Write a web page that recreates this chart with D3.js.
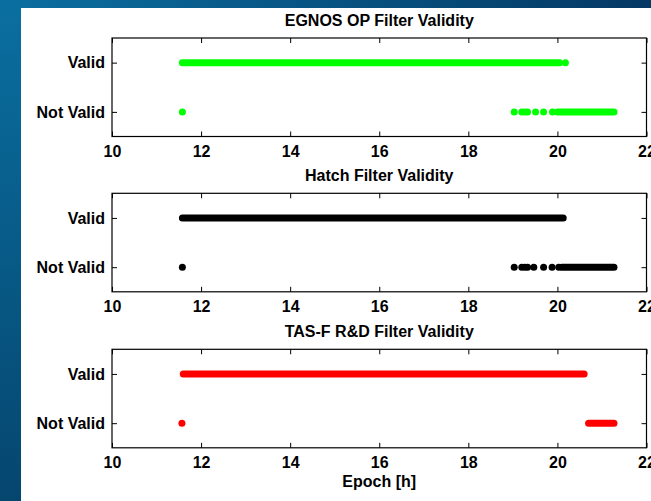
<!DOCTYPE html>
<html>
<head>
<meta charset="utf-8">
<script src="https://cdn.jsdelivr.net/npm/d3@7"></script>
<style>
  html, body { margin: 0; padding: 0; background: #fff; }
  svg { display: block; }
  text { font-family: "Liberation Sans", Arial, sans-serif; font-weight: bold; fill: #000; }
</style>
</head>
<body>
<svg id="chart" width="651" height="501"></svg>
<script>
// ---- data ----
const xTicks = [10, 12, 14, 16, 18, 20, 22];
const yTickLabels = ["Not Valid", "Valid"];   // 0 = Not Valid, 1 = Valid
const panelTitles = ["EGNOS OP Filter Validity", "Hatch Filter Validity", "TAS-F R&D Filter Validity"];
const panelColors = ["#00ff00", "#000000", "#ff0000"];
const xLabel = "Epoch [h]";

// continuous runs of epochs [start, end] (h) and isolated epochs
const egnosValidRuns = [[11.58, 20.05]];
const egnosValidPoints = [20.18];
const egnosNotValidRuns = [[20.0, 21.27]];
const egnosNotValidPoints = [11.58, 19.03, 19.20, 19.27, 19.33, 19.51, 19.69, 19.89];

const hatchValidRuns = [[11.58, 20.13]];
const hatchValidPoints = [];
const hatchNotValidRuns = [[20.1, 21.27]];
const hatchNotValidPoints = [11.58, 19.03, 19.20, 19.27, 19.33, 19.47, 19.69, 19.88, 20.03];

const tasValidRuns = [[11.6, 20.6]];
const tasValidPoints = [];
const tasNotValidRuns = [[20.7, 21.27]];
const tasNotValidPoints = [11.57];

const panels = [
  { valid: [egnosValidRuns, egnosValidPoints], notValid: [egnosNotValidRuns, egnosNotValidPoints] },
  { valid: [hatchValidRuns, hatchValidPoints], notValid: [hatchNotValidRuns, hatchNotValidPoints] },
  { valid: [tasValidRuns, tasValidPoints], notValid: [tasNotValidRuns, tasNotValidPoints] }
];

// ---- layout ----
const svg = d3.select("#chart");
const W = 651, H = 501;
const defs = svg.append("defs");
const gTop = defs.append("linearGradient").attr("id", "gTop").attr("x1", 0).attr("x2", 1).attr("y1", 0).attr("y2", 0);
gTop.append("stop").attr("offset", "0%").attr("stop-color", "#0a6fa0");
gTop.append("stop").attr("offset", "100%").attr("stop-color", "#053864");
const gLeft = defs.append("linearGradient").attr("id", "gLeft").attr("x1", 0).attr("x2", 0).attr("y1", 0).attr("y2", 1);
gLeft.append("stop").attr("offset", "0%").attr("stop-color", "#0a6fa0");
gLeft.append("stop").attr("offset", "100%").attr("stop-color", "#05466f");

svg.append("rect").attr("x", 0).attr("y", 0).attr("width", W).attr("height", 8).attr("fill", "url(#gTop)");
svg.append("rect").attr("x", 0).attr("y", 0).attr("width", 21).attr("height", H).attr("fill", "url(#gLeft)");
svg.append("rect").attr("x", 21).attr("y", 8).attr("width", W - 21).attr("height", H - 8).attr("fill", "#fff");

const left = 112, right = 646.5;
const boxTops = [38, 193.3, 349.3];
const boxH = 98.5;
const markerR = 3.5;
const fs = 16;

const x = d3.scaleLinear().domain([10, 22]).range([left, right]);

panels.forEach((p, i) => {
  const top = boxTops[i], bottom = top + boxH;
  const y = d3.scaleLinear().domain([-0.5, 1.5]).range([bottom, top]);
  const g = svg.append("g");
  const color = panelColors[i];

  // data
  [[p.notValid, 0], [p.valid, 1]].forEach(([series, lvl]) => {
    const [runs, pts] = series;
    g.selectAll(null).data(runs).enter().append("line")
      .attr("x1", d => x(d[0])).attr("x2", d => x(d[1]))
      .attr("y1", y(lvl)).attr("y2", y(lvl))
      .attr("stroke", color).attr("stroke-width", markerR * 2)
      .attr("stroke-linecap", "round");
    g.selectAll(null).data(pts).enter().append("circle")
      .attr("cx", d => x(d)).attr("cy", y(lvl)).attr("r", markerR)
      .attr("fill", color);
  });

  // axes
  const axB = d3.axisBottom(x).tickValues(xTicks).tickSizeInner(-5).tickSizeOuter(0).tickPadding(9);
  const axT = d3.axisTop(x).tickValues(xTicks).tickSizeInner(-5).tickSizeOuter(0).tickFormat("");
  const axL = d3.axisLeft(y).tickValues([0, 1]).tickSizeInner(6).tickSizeOuter(0).tickPadding(2)
    .tickFormat(d => yTickLabels[d]);
  const axR = d3.axisRight(y).tickValues([0, 1]).tickSizeInner(-5).tickSizeOuter(0).tickFormat("");

  const gb = g.append("g").attr("transform", `translate(0,${bottom})`).call(axB);
  const gt = g.append("g").attr("transform", `translate(0,${top})`).call(axT);
  const gl = g.append("g").attr("transform", `translate(${left},0)`).call(axL);
  const gr = g.append("g").attr("transform", `translate(${right},0)`).call(axR);
  [gb, gt, gl, gr].forEach(a => {
    a.select(".domain").remove();
    a.selectAll("line").attr("stroke", "#000");
    a.selectAll("text").attr("font-family", "Liberation Sans, Arial, sans-serif")
      .attr("font-weight", "bold").attr("font-size", fs).attr("fill", "#000");
  });
  gl.selectAll(".tick line").attr("x2", 5);
  gl.selectAll(".tick text").attr("x", -7);

  g.append("rect").attr("x", left).attr("y", top).attr("width", right - left).attr("height", boxH)
    .attr("fill", "none").attr("stroke", "#000").attr("stroke-width", 1.2);

  g.append("text").attr("x", (left + right) / 2).attr("y", top - 12)
    .attr("text-anchor", "middle").attr("font-size", fs).text(panelTitles[i]);
});

svg.append("text").attr("x", (left + right) / 2).attr("y", 487)
  .attr("text-anchor", "middle").attr("font-size", fs).text(xLabel);
</script>
</body>
</html>
